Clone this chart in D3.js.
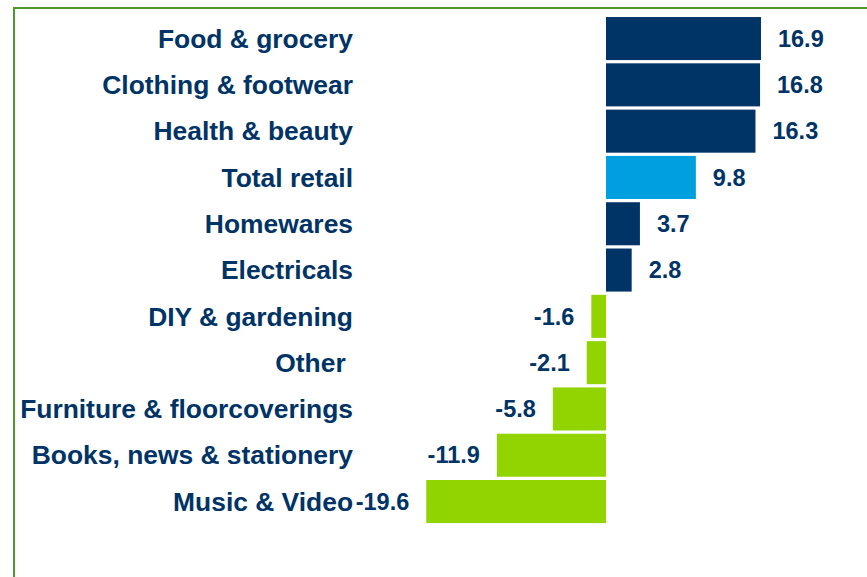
<!DOCTYPE html>
<html>
<head>
<meta charset="utf-8">
<script src="https://cdn.jsdelivr.net/npm/d3@7"></script>
<style>
  body { margin: 0; background: #fff; }
  text { font-family: Arial, "Liberation Sans", sans-serif; font-weight: bold; fill: #003366; white-space: pre; }
</style>
</head>
<body>
<svg width="867" height="577"></svg>
<script>
var categories = ["Food & grocery", "Clothing & footwear", "Health & beauty", "Total retail",
  "Homewares", "Electricals", "DIY & gardening", "Other ", "Furniture & floorcoverings",
  "Books, news & stationery", "Music & Video"];
var values = [16.9, 16.8, 16.3, 9.8, 3.7, 2.8, -1.6, -2.1, -5.8, -11.9, -19.6];
var groups = ["sector", "sector", "sector", "total", "sector", "sector", "sector", "sector", "sector", "sector", "sector"];

var svg = d3.select("svg");

// frame (top + left only)
svg.append("path")
  .attr("d", "M14,577 L14,8 L867,8")
  .attr("fill", "none")
  .attr("stroke", "#4e9a2e")
  .attr("stroke-width", 2);

var x = d3.scaleLinear()
  .domain([-20, 17])
  .range([606 - 20 * 9.17, 606 + 17 * 9.17]);

var y = d3.scaleBand()
  .domain(categories)
  .range([15.4, 524.7])
  .paddingInner(0.07)
  .paddingOuter(0.035);

var color = function(v, g) {
  if (g == "total") return "#00a0e0";
  return v >= 0 ? "#003366" : "#92d400";
};

svg.selectAll("rect.bar")
  .data(values)
  .enter()
  .append("rect")
  .attr("class", "bar")
  .attr("x", function(d){ return x(Math.min(0, d)); })
  .attr("y", function(d, i){ return y(categories[i]); })
  .attr("width", function(d){ return Math.abs(x(d) - x(0)); })
  .attr("height", y.bandwidth())
  .attr("fill", function(d, i){ return color(d, groups[i]); });

// category labels
svg.selectAll("text.cat")
  .data(categories)
  .enter()
  .append("text")
  .attr("class", "cat")
  .attr("x", 353)
  .attr("y", function(d){ return y(d) + y.bandwidth() / 2; })
  .attr("dy", "0.35em")
  .attr("text-anchor", "end")
  .style("font-size", "26.4px")
  .text(function(d){ return d; });

// value labels
svg.selectAll("text.val")
  .data(values)
  .enter()
  .append("text")
  .attr("class", "val")
  .attr("x", function(d){ return d >= 0 ? x(d) + 17 : x(d) - 17; })
  .attr("y", function(d, i){ return y(categories[i]) + y.bandwidth() / 2; })
  .attr("dy", "0.35em")
  .attr("text-anchor", function(d){ return d >= 0 ? "start" : "end"; })
  .style("font-size", "23.5px")
  .text(function(d){ return d.toFixed(1); });
</script>
</body>
</html>
